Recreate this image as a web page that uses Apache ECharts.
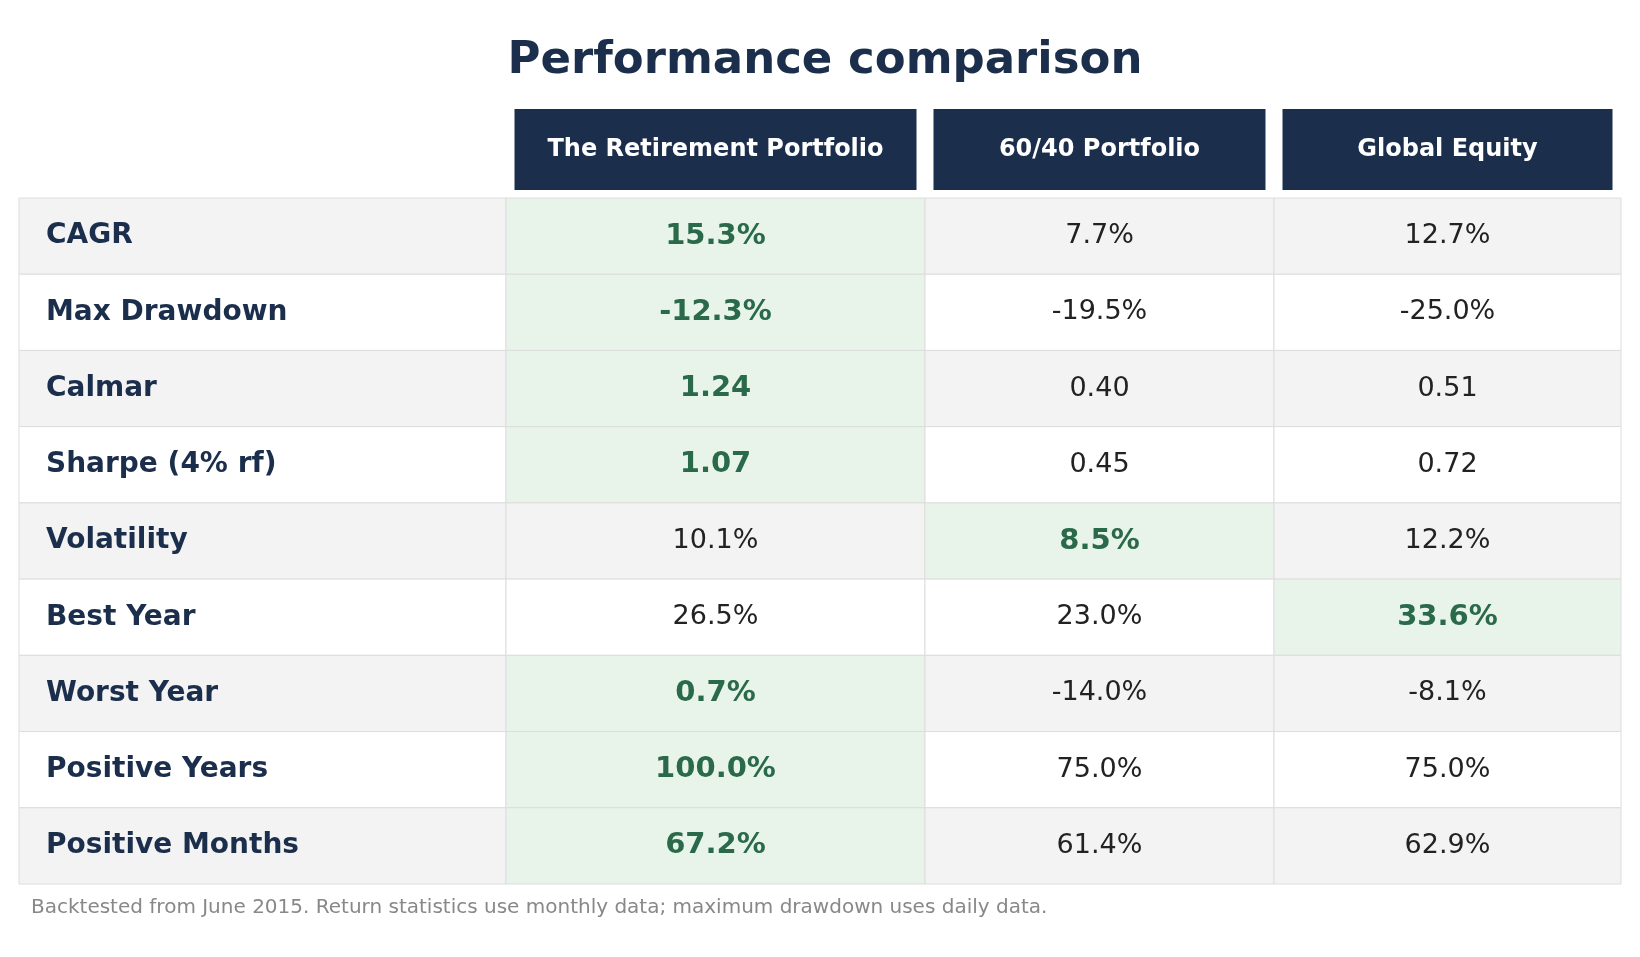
<!DOCTYPE html>
<html><head><meta charset="utf-8">
<script src="https://cdn.jsdelivr.net/npm/echarts@6/dist/echarts.min.js"></script>
<style>html,body{margin:0;background:#fff}#main{width:1640px;height:957px}</style>
</head><body><div id="main"></div>
<script>
"use strict";
const metrics = ['CAGR','Max Drawdown','Calmar','Sharpe (4% rf)','Volatility','Best Year','Worst Year','Positive Years','Positive Months'];
const portfolios = ['The Retirement Portfolio','60/40 Portfolio','Global Equity'];
const retirement = ['15.3%','-12.3%','1.24','1.07','10.1%','26.5%','0.7%','100.0%','67.2%'];
const sixtyForty = ['7.7%','-19.5%','0.40','0.45','8.5%','23.0%','-14.0%','75.0%','61.4%'];
const globalEq = ['12.7%','-25.0%','0.51','0.72','12.2%','33.6%','-8.1%','75.0%','62.9%'];
const bestCol = [1,1,1,1,2,3,1,1,1];
// column edges in px from the table's left side (layout)
const colEdges = [0,487,906,1255,1602];
const FONT = 'DejaVu Sans';

let cells = [];
for (let r = 0; r < metrics.length; r++) {
    const vals = [metrics[r], retirement[r], sixtyForty[r], globalEq[r]];
    for (let c = 0; c < 4; c++) cells.push({value:[c, r], text: vals[c]});
}
let heads = portfolios.map((p, i) => ({value:[i + 1, 0], text: p}));

function renderCell(params, api) {
    const c = api.value(0), r = api.value(1);
    const cell = cells[params.dataIndex];
    const p0 = api.coord([colEdges[c], r]);
    const p1 = api.coord([colEdges[c + 1], r]);
    const h = api.size([0, 1])[1];
    const best = c > 0 && bestCol[r] === c;
    const fill = best ? '#e8f4ea' : (r % 2 === 0 ? '#f3f3f3' : '#ffffff');
    return {type:'group', children:[
        {type:'rect', shape:{x:p0[0], y:p0[1]-h/2, width:p1[0]-p0[0], height:h},
         style:{fill:fill, stroke:'#dddddd', lineWidth:1}},
        {type:'text', x: c === 0 ? p0[0] + 27 : (p0[0]+p1[0])/2, y:p0[1],
         style:{text:cell.text, fontFamily:FONT, fontSize: c === 0 ? 28 : (best ? 29 : 27),
                fontWeight:(c === 0 || best) ? 'bold' : 'normal',
                fill: c === 0 ? '#1b2e4b' : (best ? '#2a6a4a' : '#222222'),
                align: c === 0 ? 'left' : 'center', verticalAlign:'middle'}}
    ]};
}
function renderHead(params, api) {
    const c = api.value(0);
    const p0 = api.coord([colEdges[c], 0]);
    const p1 = api.coord([colEdges[c + 1], 0]);
    const h = api.size([0, 1])[1];
    return {type:'group', children:[
        {type:'rect', shape:{x:p0[0]+8.5, y:p0[1]-h/2, width:p1[0]-p0[0]-17, height:h},
         style:{fill:'#1b2e4b'}},
        {type:'text', x:(p0[0]+p1[0])/2, y:p0[1],
         style:{text:heads[params.dataIndex].text, fontFamily:FONT, fontSize:24, fontWeight:'bold',
                fill:'#ffffff', align:'center', verticalAlign:'middle'}}
    ]};
}
let myChart = echarts.init(document.getElementById('main'));
let option = {
    animation:false,
    title:{text:'Performance comparison', left:820, top:34, textAlign:'center',
           textStyle:{fontFamily:FONT, fontSize:45, fontWeight:'bold', color:'#1b2e4b'}},
    grid:[{left:19, top:198, width:1602, height:686},
          {left:19, top:109, width:1602, height:81}],
    xAxis:[{type:'value', gridIndex:0, min:0, max:1602, show:false},
           {type:'value', gridIndex:1, min:0, max:1602, show:false}],
    yAxis:[{type:'category', gridIndex:0, data:metrics, inverse:true, show:false},
           {type:'category', gridIndex:1, data:['header'], show:false}],
    series:[
        {type:'custom', xAxisIndex:0, yAxisIndex:0, data:cells.map(d => d.value), renderItem:renderCell},
        {type:'custom', xAxisIndex:1, yAxisIndex:1, data:heads.map(d => d.value), renderItem:renderHead}
    ],
    graphic:[{type:'text', left:31, top:898,
              style:{text:'Backtested from June 2015. Return statistics use monthly data; maximum drawdown uses daily data.',
                     fontFamily:FONT, fontSize:20, fill:'#888888'}}]
};
myChart.setOption(option);
</script></body></html>
